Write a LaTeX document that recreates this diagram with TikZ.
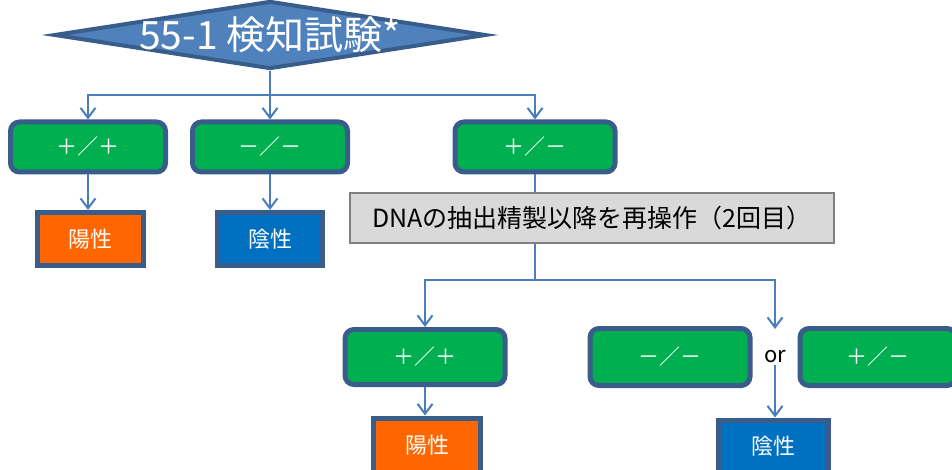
\documentclass[tikz,border=0pt]{standalone}
\usepackage{fontspec}
\setmainfont{Noto Sans CJK JP}
\usetikzlibrary{shapes.geometric,arrows.meta}

\definecolor{edgeblue}{HTML}{385D8A}
\definecolor{lineblue}{HTML}{4A7EBB}
\definecolor{testblue}{HTML}{4F81BD}
\definecolor{resgreen}{HTML}{00B050}
\definecolor{posorange}{HTML}{FF6600}
\definecolor{negblue}{HTML}{0070C0}
\definecolor{redogray}{HTML}{D9D9D9}

\tikzset{
  result/.style={draw=edgeblue, line width=5pt, fill=resgreen, rounded corners=9pt,
    text=white, font=\fontsize{21}{21}\selectfont, inner sep=0pt},
  verdict/.style={draw=edgeblue, line width=5pt, text=white,
    font=\fontsize{22}{22}\selectfont, inner sep=0pt},
  conn/.style={draw=lineblue, line width=2.5pt},
  arr/.style={conn, -{Straight Barb[length=10pt,width=15pt,line width=2pt]}}
}

\begin{document}
\begin{tikzpicture}[x=1pt, y=-1pt]
  \useasboundingbox (0,0) rectangle (952,470);
  \clip (0,0) rectangle (952,470);
  % first test
  \node[diamond, draw=edgeblue, line width=4pt, fill=testblue, inner sep=0pt,
    minimum width=432pt, minimum height=68pt] (test) at (270,35) {};
  \node[text=white, font=\fontsize{39}{39}\selectfont] (testtext) at (test.center) {55-1 検知試験*};
  \node[result, minimum width=155pt, minimum height=50pt] (pp1) at (88,147) {＋／＋};
  \node[result, minimum width=155pt, minimum height=50pt] (mm1) at (270,147) {－／－};
  \node[result, minimum width=160pt, minimum height=50pt] (pm1) at (535,147) {＋／－};
  \node[verdict, fill=posorange, minimum width=106pt, minimum height=53pt] (pos1) at (90,239) {陽性};
  \node[verdict, fill=negblue, minimum width=105pt, minimum height=53pt] (neg1) at (270,239) {陰性};
  % second run
  \node[draw=gray, line width=2.5pt, fill=redogray, inner sep=0pt, minimum width=484pt,
    minimum height=50pt, font=\fontsize{25}{25}\selectfont] (redo) at (592,218)
    {DNAの抽出精製以降を再操作（2回目）};
  \node[result, minimum width=160pt, minimum height=55pt] (pp2) at (425,357) {＋／＋};
  \node[result, minimum width=160pt, minimum height=57pt] (mm2) at (670,357) {－／－};
  \node[font=\fontsize{22}{22}\selectfont, inner sep=2pt] (or) at (775,357) {or};
  \node[result, minimum width=156pt, minimum height=57pt] (pm2) at (878,357) {＋／－};
  \node[verdict, fill=posorange, minimum width=107pt, minimum height=54pt] (pos2) at (427,445) {陽性};
  \node[verdict, fill=negblue, minimum width=110pt, minimum height=52pt] (neg2) at (773,446) {陰性};
  \coordinate (split1) at (270,95);
  \coordinate (split2) at (535,280);
  \coordinate (orin) at (775,329);
  % connectors
  \draw[conn] (test.south) -- (split1);
  \draw[arr] (split1) -| (pp1.north);
  \draw[arr] (split1) -- (mm1.north);
  \draw[arr] (split1) -| (pm1.north);
  \draw[arr] (pp1.south) -- (pp1.south |- pos1.north);
  \draw[arr] (mm1.south) -- (neg1.north);
  \draw[conn] (pm1.south) -- (redo.north -| pm1.south);
  \draw[conn] (redo.south -| pm1.south) -- (split2);
  \draw[arr] (split2) -| (pp2.north);
  \draw[arr] (split2) -| (orin);
  \draw[arr] (pp2.south) -- (pos2.north -| pp2.south);
  \draw[arr] (or.south) -- (or.south |- neg2.north);
\end{tikzpicture}
\end{document}
